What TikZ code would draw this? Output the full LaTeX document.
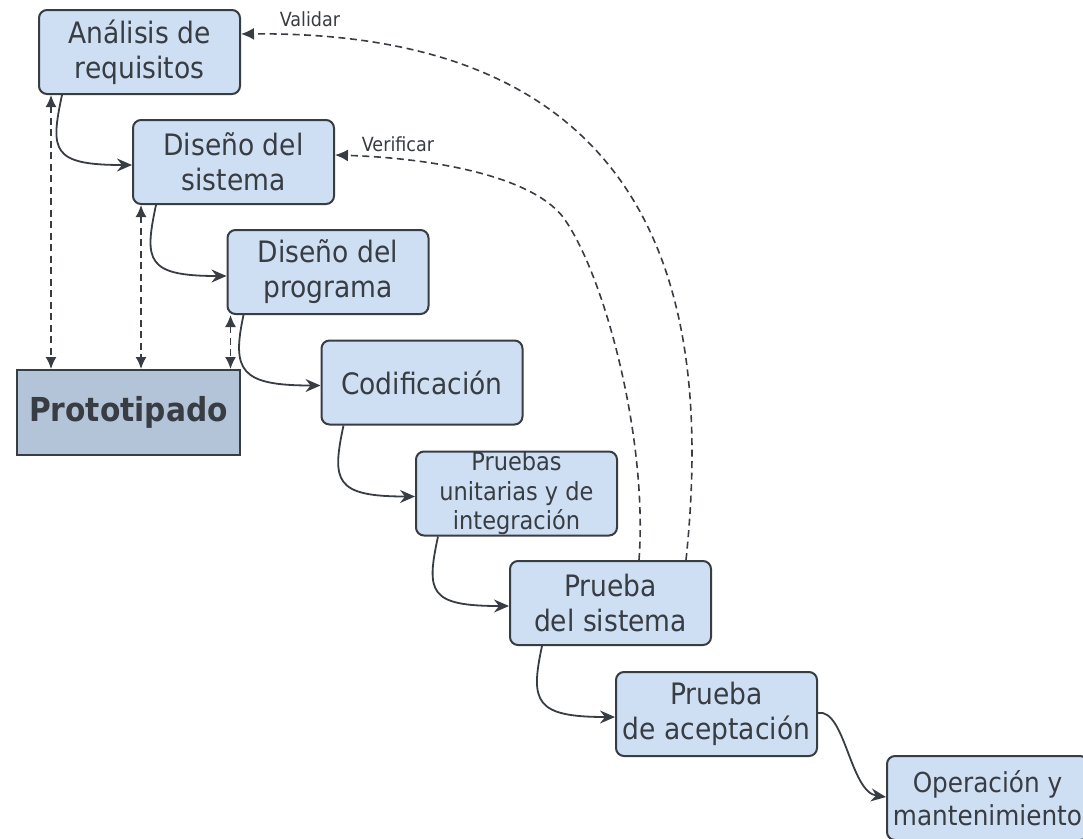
\documentclass[tikz,border=0pt]{standalone}
\usepackage{fontspec}
\setmainfont{DejaVu Sans Condensed}
\usetikzlibrary{arrows.meta}
\definecolor{boxfill}{HTML}{CFDFF3}
\definecolor{protofill}{HTML}{B4C4D8}
\definecolor{ink}{HTML}{383C43}
\tikzset{
  phase/.style={draw=ink, fill=boxfill, line width=2pt, rounded corners=8pt,
    minimum width=201pt, minimum height=84pt, inner sep=0pt, align=center,
    text=ink, font=\fontsize{29.5}{35}\selectfont},
  proto/.style={draw=ink, fill=protofill, line width=2pt,
    minimum width=223pt, minimum height=85pt, inner sep=0pt,
    text=ink, font=\fontsize{33}{38}\selectfont\bfseries},
  flow/.style={draw=ink, line width=1.8pt, -{Stealth[length=15pt,width=13pt,inset=5pt]}},
  feed/.style={draw=ink, line width=1.6pt, dash pattern=on 7pt off 4.5pt, -{Latex[length=13pt,width=12pt]}},
  dbl/.style={draw=ink, line width=1.6pt, dash pattern=on 7pt off 4.5pt, {Latex[length=12pt,width=11pt]}-{Latex[length=12pt,width=11pt]}},
  lbl/.style={text=ink, font=\fontsize{19.5}{22}\selectfont, inner sep=0pt}
}
\begin{document}
\begin{tikzpicture}[x=1pt,y=-1pt]
\useasboundingbox (0,0) rectangle (1083,838);
\clip (0,0) rectangle (1083,838);
\node[phase] (a) at (139.5,52) {Análisis de\\requisitos};
\node[phase] (b) at (233.5,162) {Diseño del\\sistema};
\node[phase] (c) at (328,272) {Diseño del\\programa};
\node[phase] (d) at (422,382.5) {Codificación};
\node[phase, font=\fontsize{25}{29.5}\selectfont] (e) at (516.5,493.5) {Pruebas\\unitarias y de\\integración};
\node[phase] (f) at (610.5,603) {Prueba\\del sistema};
\node[phase] (g) at (716.5,714) {Prueba\\de aceptación};
\node[phase, font=\fontsize{27.5}{33}\selectfont] (h) at (987.5,798) {Operación y\\mantenimiento};
\node[proto] (p) at (128.5,412.5) {Prototipado};

% main flow
\draw[flow] ([xshift=24pt]a.south west) .. controls +(-12,56) and +(-80,0) .. ([yshift=-3pt]b.west);
\draw[flow] ([xshift=24pt]b.south west) .. controls +(-12,56) and +(-80,0) .. ([yshift=-4pt]c.west);
\draw[flow] ([xshift=17pt]c.south west) .. controls +(-12,56) and +(-80,0) .. ([yshift=-3pt]d.west);
\draw[flow] ([xshift=23pt]d.south west) .. controls +(-12,56) and +(-80,0) .. ([yshift=-3pt]e.west);
\draw[flow] ([xshift=23pt]e.south west) .. controls +(-12,56) and +(-80,0) .. ([yshift=-3pt]f.west);
\draw[flow] ([xshift=33pt]f.south west) .. controls +(-12,56) and +(-80,0) .. ([yshift=-3pt]g.west);
\draw[flow] ([yshift=1pt]g.east) .. controls (845,708) and (850,792) .. ([yshift=1pt]h.west);

% prototyping links
\draw[dbl] ([xshift=13pt]a.south west) -- ([xshift=13pt]a.south west |- p.north);
\draw[dbl] ([xshift=9pt]b.south west) -- ([xshift=9pt]b.south west |- p.north);
\draw[dbl] ([xshift=4pt]c.south west) -- ([xshift=4pt]c.south west |- p.north);

% feedback
\draw[feed] ([xshift=177pt]f.north west) .. controls (710,330) and (680,30) .. ([yshift=18pt]a.east);
\draw[feed] ([xshift=130pt]f.north west) .. controls (648,440) and (605,275) .. (563,217)
  .. controls (530,175) and (430,158) .. ([yshift=7pt]b.east);
\node[lbl] (val) at (310,19) {Validar};
\node[lbl] (ver) at (398,144) {Verificar};
\end{tikzpicture}
\end{document}
